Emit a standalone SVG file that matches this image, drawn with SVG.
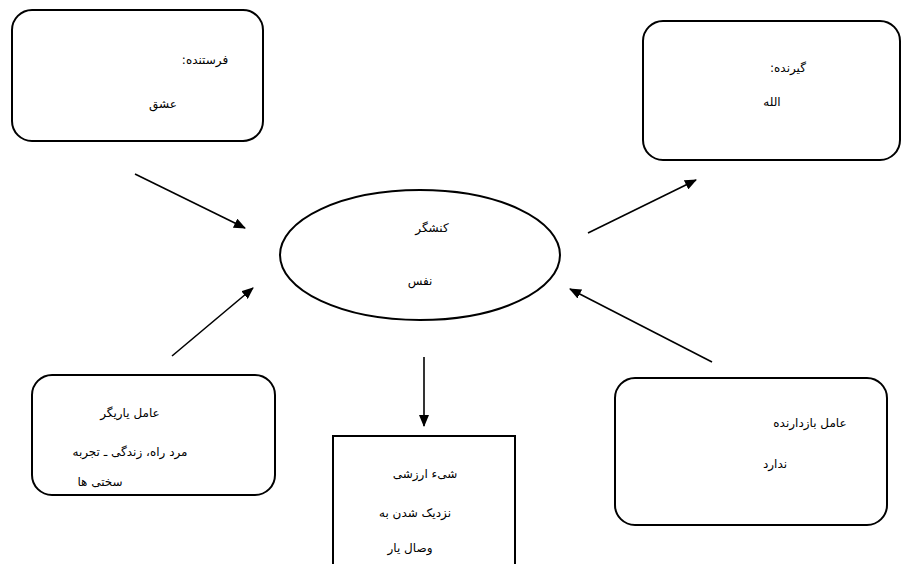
<svg xmlns="http://www.w3.org/2000/svg" width="912" height="564" viewBox="0 0 912 564">
<defs>
<style>
.box{fill:#fff;stroke:#000;stroke-width:2}
.t{font-family:"DejaVu Sans","Noto Sans",sans-serif;font-size:12px;fill:#000;text-anchor:middle;direction:rtl}
.c{stroke:#000;stroke-width:1.6;fill:none;marker-end:url(#ah)}
</style>
<marker id="ah" markerWidth="12" markerHeight="10" refX="11" refY="5" orient="auto" markerUnits="userSpaceOnUse">
<path d="M0,0 L12,5 L0,10 Z" fill="#000"/>
</marker>
</defs>
<rect width="912" height="564" fill="#fff"/>
<g id="connectors">
<line class="c" x1="135" y1="174" x2="245" y2="228"/>
<line class="c" x1="588" y1="233" x2="696" y2="180"/>
<line class="c" x1="172" y1="356" x2="253" y2="288"/>
<line class="c" x1="712" y1="362" x2="570" y2="289"/>
<line class="c" x1="424" y1="357" x2="424" y2="426"/>
</g>
<g id="sender">
<rect class="box" x="12" y="10" width="251" height="131" rx="20"/>
<text class="t" x="205" y="64">فرستنده:</text>
<text class="t" x="163" y="108">عشق</text>
</g>
<g id="receiver">
<rect class="box" x="643" y="21" width="257" height="139" rx="20"/>
<text class="t" x="788" y="72">گیرنده:</text>
<text class="t" x="772" y="106">الله</text>
</g>
<g id="subject">
<ellipse class="box" cx="420" cy="255" rx="140" ry="65"/>
<text class="t" x="432" y="232">کنشگر</text>
<text class="t" x="420" y="285">نفس</text>
</g>
<g id="helper">
<rect class="box" x="32" y="375" width="243" height="120" rx="20"/>
<text class="t" x="130" y="417">عامل یاریگر</text>
<text class="t" x="130" y="456">مرد راه، زندگی ـ تجربه</text>
<text class="t" x="100" y="486">سختی ها</text>
</g>
<g id="object">
<rect class="box" x="333" y="436" width="182" height="140"/>
<text class="t" x="425" y="478">شیء ارزشی</text>
<text class="t" x="415" y="517">نزدیک شدن به</text>
<text class="t" x="410" y="552">وصال یار</text>
</g>
<g id="opponent">
<rect class="box" x="615" y="378" width="272" height="147" rx="20"/>
<text class="t" x="810" y="427">عامل بازدارنده</text>
<text class="t" x="775" y="468">ندارد</text>
</g>
</svg>
